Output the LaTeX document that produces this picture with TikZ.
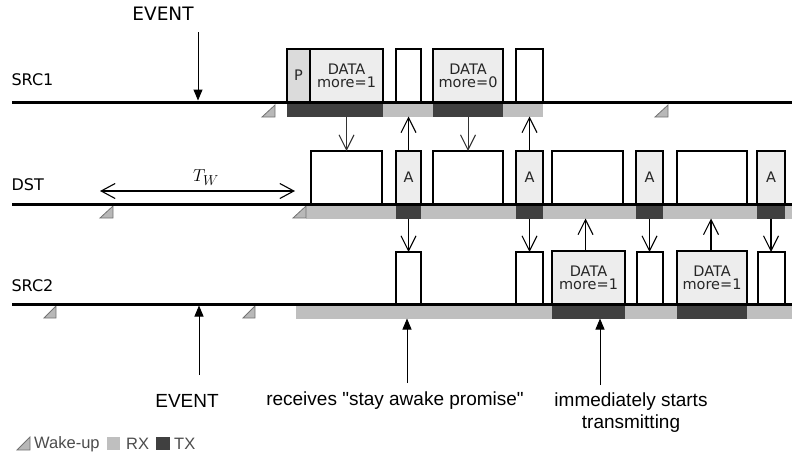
\documentclass[tikz,border=0pt]{standalone}
\usepackage{fontspec}
\setmainfont{DejaVu Sans}
\newfontfamily\arialf{Liberation Sans}
\usetikzlibrary{arrows.meta}
\begin{document}
\begin{tikzpicture}[x=1pt,y=-1pt,
  pkt/.style={draw=black, line width=1.6pt, inner sep=0pt, outer sep=0pt, anchor=north west,
    align=center, font=\fontsize{14.5}{15}\selectfont, text=black!85},
  wpkt/.style={pkt, fill=white},
  gpkt/.style={pkt, fill=black!7},
  ppkt/.style={pkt, fill=black!14},
  bar/.style={draw=none, inner sep=0pt, outer sep=0pt, anchor=north west, minimum height=12.5pt},
  rx/.style={bar, fill=black!25},
  tx/.style={bar, fill=black!75},
  wake/.style={fill=black!28, draw=black!55, line width=0.8pt, line join=miter},
  tl/.style={line width=3pt},
  barb/.style={-{Straight Barb[length=15pt,width=15pt,line width=1.1pt]}},
  thinarr/.style={barb, line width=1pt, draw=black!80},
  thkarr/.style={barb, line width=1.8pt},
  evarr/.style={-{Triangle[length=11pt,width=9pt]}, line width=1pt},
  rowlab/.style={anchor=west, font=\fontsize{16}{17}\selectfont},
  note/.style={font=\arialf\fontsize{19}{22}\selectfont, align=center},
  leg/.style={anchor=west, font=\arialf\fontsize{16.5}{17}\selectfont, text=black!70, inner sep=0pt}
]
\useasboundingbox (0,0) rectangle (792,459);

% ---------- bars ----------
% SRC1
\node[tx, minimum width=96pt] (s1tx1) at (287,104) {};
\node[rx, minimum width=50pt] (s1rx1) at (383,104) {};
\node[tx, minimum width=70pt] (s1tx2) at (433,104) {};
\node[rx, minimum width=40pt] (s1rx2) at (503,104) {};
% DST
\node[rx, minimum width=90pt] (drx1) at (306,206) {};
\node[tx, minimum width=25pt] (dtx1) at (396,206) {};
\node[rx, minimum width=95pt] (drx2) at (421,206) {};
\node[tx, minimum width=27pt] (dtx2) at (516,206) {};
\node[rx, minimum width=93pt] (drx3) at (543,206) {};
\node[tx, minimum width=27pt] (dtx3) at (636,206) {};
\node[rx, minimum width=94pt] (drx4) at (663,206) {};
\node[tx, minimum width=28pt] (dtx4) at (757,206) {};
\node[rx, minimum width=7pt] (drx5) at (785,206) {};
% SRC2
\node[rx, minimum width=256pt] (s2rx1) at (296,306) {};
\node[tx, minimum width=73pt] (s2tx1) at (552,306) {};
\node[rx, minimum width=52pt] (s2rx2) at (625,306) {};
\node[tx, minimum width=70pt] (s2tx2) at (677,306) {};
\node[rx, minimum width=45pt] (s2rx3) at (747,306) {};

% ---------- wake-up triangles ----------
\draw[wake] (262,117) -- (275,105) -- (275,117) -- cycle;
\draw[wake] (655,117) -- (668,105) -- (668,117) -- cycle;
\draw[wake] (100,218) -- (113,206) -- (113,218) -- cycle;
\draw[wake] (293,218) -- (306,206) -- (306,218) -- cycle;
\draw[wake] (44,318) -- (56,306) -- (56,318) -- cycle;
\draw[wake] (243,318) -- (255,306) -- (255,318) -- cycle;

% ---------- packets ----------
% SRC1
\node[ppkt, minimum width=23pt, minimum height=53pt] (s1p) at (287,49) {P};
\node[gpkt, minimum width=73pt, minimum height=53pt] (s1d1) at (310,49) {DATA\\[-2pt]more=1};
\node[wpkt, minimum width=25pt, minimum height=53pt] (s1e1) at (396,49) {};
\node[gpkt, minimum width=70pt, minimum height=53pt] (s1d2) at (433,49) {DATA\\[-2pt]more=0};
\node[wpkt, minimum width=27pt, minimum height=53pt] (s1e2) at (516,49) {};
% DST
\node[wpkt, minimum width=71pt, minimum height=53pt] (d1) at (311,151) {};
\node[gpkt, minimum width=25pt, minimum height=53pt] (dA1) at (396,151) {A};
\node[wpkt, minimum width=70pt, minimum height=53pt] (d2) at (433,151) {};
\node[gpkt, minimum width=27pt, minimum height=53pt] (dA2) at (516,151) {A};
\node[wpkt, minimum width=71pt, minimum height=53pt] (d3) at (552,151) {};
\node[gpkt, minimum width=27pt, minimum height=53pt] (dA3) at (636,151) {A};
\node[wpkt, minimum width=70pt, minimum height=53pt] (d4) at (677,151) {};
\node[gpkt, minimum width=28pt, minimum height=53pt] (dA4) at (757,151) {A};
% SRC2
\node[wpkt, minimum width=25pt, minimum height=52pt] (s2e1) at (396,252) {};
\node[wpkt, minimum width=27pt, minimum height=52pt] (s2e2) at (516,252) {};
\node[gpkt, minimum width=73pt, minimum height=53pt] (s2d1) at (552,251) {DATA\\[-2pt]more=1};
\node[wpkt, minimum width=26pt, minimum height=52pt] (s2e3) at (637,252) {};
\node[gpkt, minimum width=70pt, minimum height=53pt] (s2d2) at (677,251) {DATA\\[-2pt]more=1};
\node[wpkt, minimum width=27pt, minimum height=52pt] (s2e4) at (758,252) {};

% ---------- time lines ----------
\coordinate (l1a) at (12,102); \coordinate (l1b) at (792,102);
\coordinate (l2a) at (12,204); \coordinate (l2b) at (792,204);
\coordinate (l3a) at (12,304); \coordinate (l3b) at (792,304);
\draw[tl] (l1a) -- (l1b);
\draw[tl] (l2a) -- (l2b);
\draw[tl] (l3a) -- (l3b);

\node[rowlab] (lsrc1) at (8,80) {SRC1};
\node[rowlab] (ldst) at (8,185) {DST};
\node[rowlab] (lsrc2) at (8,286) {SRC2};

% ---------- message arrows ----------
\draw[thinarr] (s1tx1.south -| d1.north) -- (d1.north);
\draw[thinarr] (s1tx2.south -| d2.north) -- (d2.north);
\draw[thkarr] (dA1.north) -- (dA1.north |- s1rx1.south);
\draw[thkarr] (dA2.north) -- (dA2.north |- s1rx2.south);
\draw[thkarr] (dtx1.south) -- (dtx1.south |- s2e1.north);
\draw[thkarr] (dtx2.south) -- (dtx2.south |- s2e2.north);
\draw[thkarr] (dtx3.south) -- (dtx3.south |- s2e3.north);
\draw[thkarr] (dtx4.south) -- (dtx4.south |- s2e4.north);
\draw[thkarr] ([xshift=-3pt]s2d1.north) -- ([xshift=-3pt]s2d1.north |- drx3.south);
\draw[thkarr] ([xshift=-1pt]s2d2.north) -- ([xshift=-1pt]s2d2.north |- drx4.south);

% ---------- T_W ----------
\coordinate (twa) at (100,191); \coordinate (twb) at (295,191);
\draw[line width=1.3pt, {Straight Barb[length=14pt,width=15pt,line width=1.1pt]}-{Straight Barb[length=14pt,width=15pt,line width=1.1pt]}] (twa) -- (twb);
\node[font=\fontsize{19}{20}\selectfont] (tw) at (206,178) {$T_W$};

% ---------- events and notes ----------
\node[font=\fontsize{18.5}{20}\selectfont] (ev1) at (163,14) {EVENT};
\coordinate (ev1s) at (198,32); \coordinate (ev1e) at (198,100.5);
\draw[evarr] (ev1s) -- (ev1e);

\node[note] (ev2) at (187,401) {EVENT};
\coordinate (ev2s) at (199,375); \coordinate (ev2e) at (199,305.5);
\draw[evarr] (ev2s) -- (ev2e);

\node[note] (n1) at (395,401) {receives "stay awake promise"};
\coordinate (n1s) at (407,383); \coordinate (n1e) at (407,318.5);
\draw[evarr] (n1s) -- (n1e);

\node[note, anchor=north] (n2) at (631,389) {immediately starts\\transmitting};
\coordinate (n2s) at (600,385); \coordinate (n2e) at (600,318.5);
\draw[evarr] (n2s) -- (n2e);

% ---------- legend ----------
\draw[wake] (17,450) -- (30,437) -- (30,450) -- cycle;
\node[leg] (lw) at (34,444) {Wake-up};
\fill[black!25] (107,437) rectangle (120,450);
\node[leg] (lrx) at (126,444) {RX};
\fill[black!75] (156,437) rectangle (170,450);
\node[leg] (ltx) at (174,444) {TX};
\end{tikzpicture}
\end{document}
